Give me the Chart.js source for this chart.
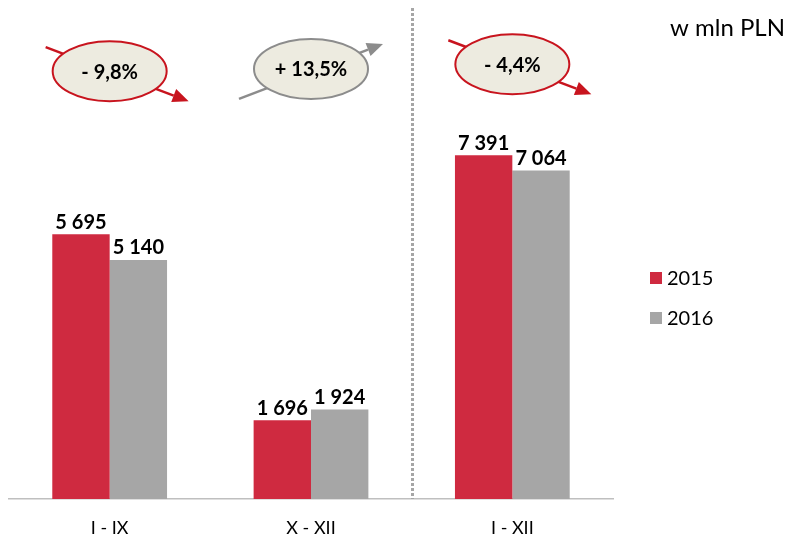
<!DOCTYPE html>
<html>
<head>
<meta charset="utf-8">
<script src="https://cdn.jsdelivr.net/npm/chart.js@4/dist/chart.umd.min.js"></script>
<style>
  html, body { margin: 0; padding: 0; background: #fff; }
  #wrap { width: 790px; height: 538px; position: relative; }
</style>
</head>
<body>
<div id="wrap"><canvas id="sales"></canvas></div>
<script>
const periods = ['I - IX', 'X - XII', 'I - XII'];
const years = ['2015', '2016'];
const values2015 = [5695, 1696, 7391];
const values2016 = [5140, 1924, 7064];
const changes = ['- 9,8%', '+ 13,5%', '- 4,4%'];
const changeUp = [false, true, false];
// height (in mln PLN) at which each change bubble sits
const bubbleLevel = [9200, 9250, 9350];

const RED = '#CF2A40';
const GREY = '#A6A6A6';
const FONT = 'Lato, "Open Sans", sans-serif';

const fmt = v => String(v).replace(/\B(?=(\d{3})+(?!\d))/g, ' ');

// value labels above each bar
const barLabels = {
  id: 'barLabels',
  afterDatasetsDraw(chart) {
    const ctx = chart.ctx;
    ctx.save();
    ctx.font = 'bold 20px ' + FONT;
    ctx.fillStyle = '#000';
    ctx.textAlign = 'center';
    ctx.textBaseline = 'bottom';
    chart.data.datasets.forEach((ds, i) => {
      chart.getDatasetMeta(i).data.forEach((bar, j) => {
        ctx.fillText(fmt(ds.data[j]), bar.x, bar.y - 2);
      });
    });
    ctx.restore();
  }
};

// dotted separator, change bubbles, unit note and legend
const extras = {
  id: 'extras',
  afterDraw(chart) {
    const ctx = chart.ctx;
    const x = chart.scales.x, y = chart.scales.y;
    ctx.save();

    // separator between the quarters and the full year
    const sx = Math.round(x.getPixelForValue(1.5)) + 0.5;
    ctx.strokeStyle = '#A6A6A6';
    ctx.lineWidth = 3;
    ctx.setLineDash([3, 2]);
    ctx.beginPath();
    ctx.moveTo(sx, 8);
    ctx.lineTo(sx, chart.chartArea.bottom);
    ctx.stroke();
    ctx.setLineDash([]);

    changes.forEach((txt, i) => {
      const cx = x.getPixelForValue(i);
      const cy = y.getPixelForValue(bubbleLevel[i]);
      const col = changeUp[i] ? '#8C8C8C' : '#C8141E';
      let x0, y0, x1, y1;
      if (changeUp[i]) { x0 = cx - 72; y0 = cy + 30; x1 = cx + 72; y1 = cy - 25; }
      else { x0 = cx - 64; y0 = cy - 24; x1 = cx + 79; y1 = cy + 30; }
      ctx.strokeStyle = col;
      ctx.fillStyle = col;
      ctx.lineWidth = 2.5;
      const ang = Math.atan2(y1 - y0, x1 - x0);
      const hl = 16, hw = 7;
      const bx = x1 - hl * Math.cos(ang), by = y1 - hl * Math.sin(ang);
      ctx.beginPath();
      ctx.moveTo(x0, y0);
      ctx.lineTo(bx, by);
      ctx.stroke();
      ctx.beginPath();
      ctx.moveTo(x1, y1);
      ctx.lineTo(bx + hw * Math.sin(ang), by - hw * Math.cos(ang));
      ctx.lineTo(bx - hw * Math.sin(ang), by + hw * Math.cos(ang));
      ctx.closePath();
      ctx.fill();

      ctx.beginPath();
      ctx.ellipse(cx, cy, 57, 30, 0, 0, Math.PI * 2);
      ctx.fillStyle = '#EDEBE0';
      ctx.fill();
      ctx.lineWidth = 2;
      ctx.stroke();

      ctx.fillStyle = '#000';
      ctx.font = 'bold 20px ' + FONT;
      ctx.textAlign = 'center';
      ctx.textBaseline = 'middle';
      ctx.fillText(txt, cx, cy + 1);
    });

    ctx.font = '24px ' + FONT;
    ctx.fillStyle = '#000';
    ctx.textAlign = 'left';
    ctx.textBaseline = 'middle';
    ctx.fillText('w mln PLN', 670, 28);

    chart.data.datasets.forEach((ds, i) => {
      const ly = 278 + i * 40;
      ctx.fillStyle = ds.backgroundColor;
      ctx.fillRect(650, ly - 6, 12, 12);
      ctx.fillStyle = '#000';
      ctx.font = '20px ' + FONT;
      ctx.fillText(ds.label, 667, ly + 1);
    });
    ctx.restore();
  }
};

new Chart(document.getElementById('sales'), {
  type: 'bar',
  data: {
    labels: periods,
    datasets: [
      { label: years[0], data: values2015, backgroundColor: RED },
      { label: years[1], data: values2016, backgroundColor: GREY }
    ]
  },
  options: {
    responsive: true,
    maintainAspectRatio: false,
    animation: false,
    events: [],
    barPercentage: 1,
    categoryPercentage: 0.57,
    layout: { padding: { left: 9, right: 177, top: 34, bottom: 0 } },
    scales: {
      x: {
        grid: { display: false },
        border: { display: true, color: '#BFBFBF', width: 1.5 },
        ticks: { color: '#000', font: { family: FONT, size: 18 }, padding: 10 },
        afterFit: scale => { scale.height = 39; }
      },
      y: { display: false, min: 0, max: 10000 }
    },
    plugins: { legend: { display: false }, tooltip: { enabled: false } }
  },
  plugins: [barLabels, extras]
});
</script>
</body>
</html>
